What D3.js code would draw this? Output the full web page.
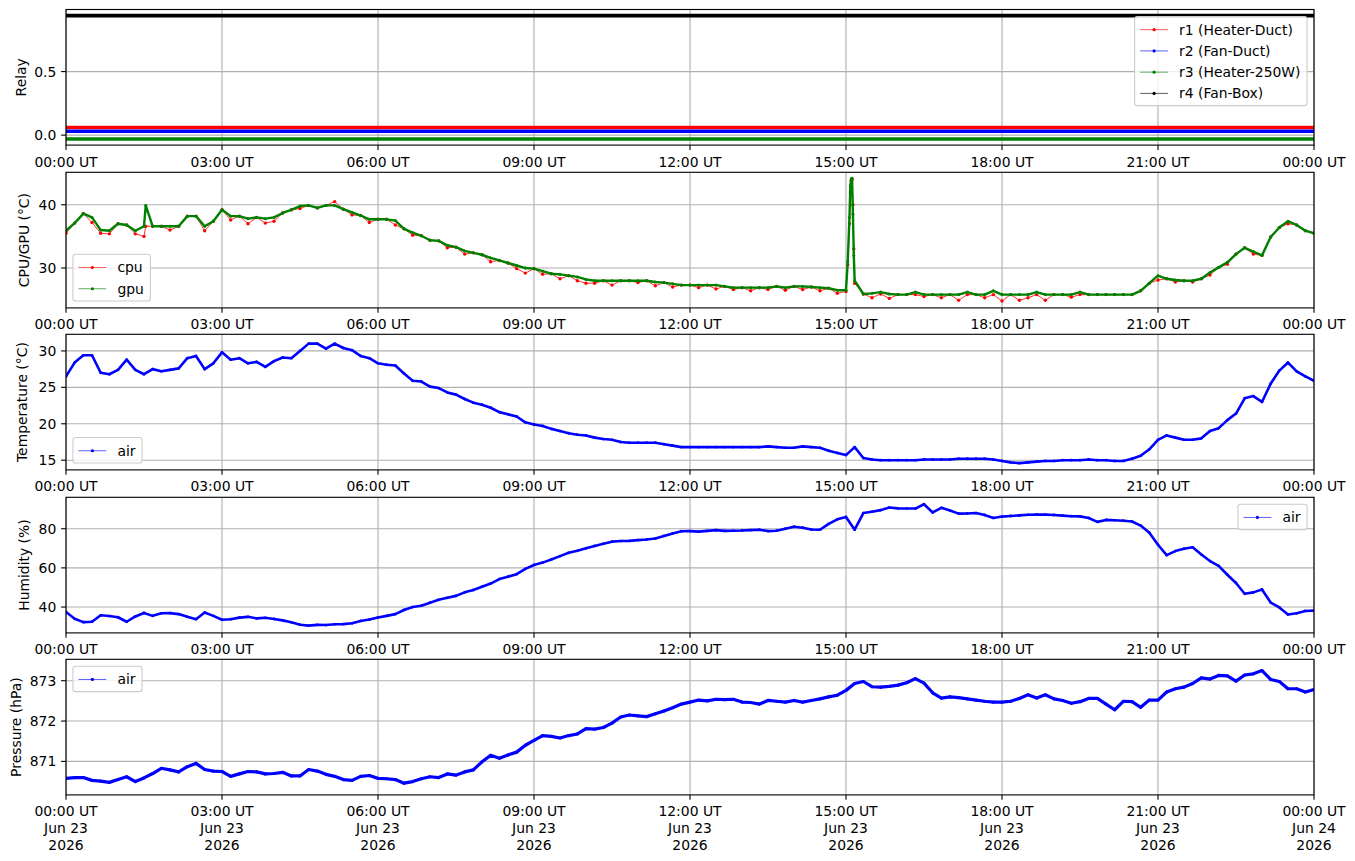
<!DOCTYPE html>
<html><head><meta charset="utf-8">
<script src="https://cdn.jsdelivr.net/npm/d3@7/dist/d3.min.js"></script>
<style>
html,body{margin:0;padding:0;background:#fff;}
svg{display:block;font-family:"DejaVu Sans",sans-serif;}
</style></head><body>
<svg id="chart" width="1355" height="861"></svg>
<script>
// ---------------- data ----------------
const startDate = "2026-06-23T00:00:00Z";
const endDate = "2026-06-24T00:00:00Z";
// sampling grid: one reading every 10 minutes through the day
const sampleMinutes = d3.range(0, 1441, 10);

const relayNames = ["r1 (Heater-Duct)", "r2 (Fan-Duct)", "r3 (Heater-250W)", "r4 (Fan-Box)"];
const relayColors = ["red", "blue", "green", "black"];
const relayMinutes = [0, 1440];
const relayR1 = [0, 0];
const relayR2 = [0, 0];
const relayR3 = [0, 0];
const relayR4 = [1, 1];
const relayOffsets = [0.06, 0.03, -0.03, -0.06];

const gpuTemp = [
 35.9,37.1,38.6,38.0,36.0,35.9,37.0,36.8,35.9,36.6,
 36.6,36.6,36.6,36.6,38.2,38.2,36.6,37.4,39.2,38.2,
 38.2,37.8,38.0,37.8,38.0,38.7,39.2,39.8,39.9,39.5,
 39.9,39.9,39.3,38.8,38.3,37.7,37.7,37.7,37.5,36.2,
 35.6,35.1,34.4,34.3,33.6,33.3,32.7,32.4,32.1,31.6,
 31.2,30.8,30.4,30.0,29.9,29.5,29.1,29.0,28.8,28.6,
 28.2,28.0,28.0,28.0,28.0,28.0,28.0,28.0,27.8,27.7,
 27.5,27.3,27.3,27.3,27.3,27.3,27.1,26.9,26.9,26.9,
 26.9,26.9,27.1,26.9,27.1,27.1,27.0,26.9,26.8,26.5,
 26.5,28.0,25.9,26.0,26.2,25.9,25.8,25.8,26.2,25.8,
 25.8,25.8,25.8,25.8,26.2,25.8,25.8,26.4,25.8,25.8,
 25.8,25.8,26.2,25.8,25.8,25.8,25.8,26.2,25.8,25.8,
 25.8,25.8,25.8,25.8,26.4,27.6,28.8,28.3,28.1,28.0,
 28.0,28.3,29.3,30.1,30.9,32.2,33.2,32.6,32.0,34.9,
 36.4,37.4,36.8,35.9,35.5];
const cpuTemp = [
 35.5,37.1,38.6,37.2,35.5,35.4,37.0,36.8,35.4,35.0,
 36.6,36.6,36.0,36.6,38.2,38.2,35.9,37.4,39.2,37.6,
 38.2,37.0,38.0,37.1,37.4,38.7,39.2,39.4,39.9,39.5,
 39.9,40.5,39.3,38.4,38.3,37.2,37.7,37.7,36.8,36.2,
 35.2,35.1,34.4,34.3,33.2,33.3,32.2,32.4,32.1,31.0,
 31.2,30.8,29.9,29.2,29.9,29.0,29.1,28.3,28.8,28.0,
 27.6,27.6,28.0,27.3,28.0,28.0,27.7,28.0,27.2,27.7,
 27.0,27.3,27.3,26.9,27.3,26.7,27.1,26.6,26.9,26.4,
 26.9,26.6,27.1,26.5,27.1,26.6,27.0,26.4,26.8,26.0,
 26.3,27.6,25.9,25.3,25.9,25.2,25.8,25.8,25.8,25.5,
 25.8,25.3,25.8,24.9,25.8,25.8,25.3,25.8,24.8,25.8,
 24.9,25.3,25.8,24.9,25.8,25.8,25.4,25.8,25.8,25.8,
 25.8,25.8,25.8,25.8,26.4,27.6,28.1,28.3,27.8,28.0,
 27.8,28.3,28.9,30.1,30.6,32.2,33.2,32.2,32.0,34.9,
 36.4,37.0,36.8,35.9,35.5];
// short-lived excursions read between the 10-minute samples
const spikeMinutes = [92, 902, 904, 905, 906, 907, 908, 909];
const cpuSpike = [36.6, 30.5, 37.0, 42.0, 43.8, 44.0, 40.0, 33.0];
const gpuSpike = [39.9, 31.0, 38.0, 43.0, 44.1, 44.2, 38.5, 32.0];

const airTemp = [
 26.5,28.4,29.4,29.4,27.0,26.8,27.4,28.8,27.4,26.8,
 27.5,27.2,27.4,27.6,29.0,29.3,27.5,28.3,29.8,28.8,
 29.0,28.3,28.5,27.8,28.6,29.1,29.0,30.0,31.0,31.0,
 30.3,31.0,30.4,30.1,29.3,29.0,28.3,28.1,28.0,26.9,
 25.9,25.8,25.1,24.9,24.3,24.0,23.4,22.9,22.6,22.2,
 21.6,21.3,21.0,20.2,19.9,19.7,19.3,19.0,18.7,18.5,
 18.4,18.1,17.9,17.8,17.5,17.4,17.4,17.4,17.4,17.2,
 17.0,16.8,16.8,16.8,16.8,16.8,16.8,16.8,16.8,16.8,
 16.8,16.9,16.8,16.7,16.7,16.9,16.8,16.7,16.3,16.0,
 15.7,16.8,15.3,15.1,15.0,15.0,15.0,15.0,15.0,15.1,
 15.1,15.1,15.1,15.2,15.2,15.2,15.2,15.1,14.9,14.7,
 14.6,14.7,14.8,14.9,14.9,15.0,15.0,15.0,15.1,15.0,
 15.0,14.9,14.9,15.2,15.6,16.5,17.8,18.4,18.1,17.8,
 17.8,18.0,19.0,19.4,20.5,21.4,23.5,23.8,23.0,25.5,
 27.3,28.4,27.2,26.5,25.9];

const humidity = [
 37.5,34.0,32.3,32.5,35.8,35.4,34.8,32.5,35.2,37.0,
 35.5,36.8,36.9,36.4,35.0,33.8,37.2,35.5,33.5,33.8,
 34.6,35.0,34.2,34.5,33.9,33.2,32.2,31.0,30.5,30.9,
 30.8,31.2,31.3,31.7,32.9,33.6,34.7,35.5,36.4,38.5,
 40.0,40.7,42.2,43.7,44.7,45.7,47.5,48.7,50.4,52.0,
 54.3,55.5,56.8,59.5,61.5,62.7,64.3,66.0,67.7,68.7,
 70.0,71.2,72.3,73.4,73.7,73.8,74.2,74.5,75.0,76.3,
 77.6,78.7,78.8,78.5,78.9,79.3,78.9,79.0,79.1,79.3,
 79.5,78.8,79.0,80.0,81.0,80.5,79.6,79.5,82.5,84.8,
 86.0,79.5,88.0,88.7,89.5,90.8,90.4,90.3,90.3,92.5,
 88.3,90.7,89.3,87.7,87.8,88.0,87.0,85.5,86.2,86.5,
 86.8,87.1,87.3,87.2,87.0,86.7,86.4,86.3,85.5,83.5,
 84.5,84.3,84.1,83.7,81.6,78.0,71.8,66.5,68.6,69.8,
 70.5,66.8,63.5,61.0,56.5,52.3,46.8,47.5,49.0,42.3,
 39.8,36.2,36.8,38.0,38.2];

const pressure = [
 870.58,870.60,870.60,870.53,870.51,870.48,870.55,870.62,870.50,870.59,
 870.70,870.83,870.79,870.74,870.87,870.95,870.80,870.76,870.75,870.63,
 870.69,870.75,870.74,870.69,870.70,870.73,870.64,870.64,870.80,870.76,
 870.68,870.63,870.55,870.53,870.63,870.65,870.58,870.57,870.55,870.46,
 870.50,870.57,870.62,870.60,870.69,870.66,870.74,870.79,870.99,871.15,
 871.08,871.16,871.23,871.40,871.52,871.64,871.62,871.58,871.64,871.68,
 871.81,871.80,871.84,871.95,872.10,872.15,872.13,872.11,872.18,872.25,
 872.33,872.42,872.47,872.52,872.50,872.54,872.53,872.54,872.47,872.46,
 872.42,872.51,872.49,872.47,872.51,872.47,872.51,872.55,872.60,872.64,
 872.76,872.93,872.98,872.85,872.84,872.86,872.89,872.95,873.05,872.94,
 872.70,872.57,872.60,872.58,872.55,872.52,872.49,872.47,872.47,872.49,
 872.56,872.65,872.57,872.65,872.55,872.51,872.44,872.48,872.56,872.56,
 872.42,872.28,872.49,872.48,872.34,872.52,872.52,872.72,872.80,872.84,
 872.93,873.07,873.04,873.13,873.12,872.99,873.14,873.17,873.25,873.03,
 872.98,872.80,872.80,872.72,872.78];

const yTicksRelay = [0, 0.5];
const yTicksCpu = [30, 40];
const yTicksTemp = [15, 20, 25, 30];
const yTicksHum = [40, 60, 80];
const yTicksPres = [871, 872, 873];

// ---------------- drawing ----------------
const svg = d3.select("#chart");
const L = 66, R = 1314, PH = 135.6;
const FS = 13.9, TICK = 4.86, SPINE = 1.11;
const t0 = +new Date(startDate);
const md = m => new Date(t0 + m * 60000);
const x = d3.scaleUtc().domain([new Date(startDate), new Date(endDate)]).range([L, R]);
const xTicks = x.ticks(d3.utcHour.every(3));
const fmtTime = d3.utcFormat("%H:%M UT"), fmtDay = d3.utcFormat("%b %d"), fmtYear = d3.utcFormat("%Y");

const panels = [
  {top: 9.5,   domain: [-0.0785, 0.9885], ticks: yTicksRelay, fmt: d3.format(".1f"), label: "Relay", lx: 26},
  {top: 172.3, domain: [23.7, 45.13],     ticks: yTicksCpu,   fmt: d3.format("d"),  label: "CPU/GPU (°C)", lx: 29},
  {top: 334.3, domain: [13.67, 32.28],    ticks: yTicksTemp,  fmt: d3.format("d"),  label: "Temperature (°C)", lx: 27},
  {top: 497.3, domain: [26.8, 96.05],     ticks: yTicksHum,   fmt: d3.format("d"),  label: "Humidity (%)", lx: 29},
  {top: 659.3, domain: [870.17, 873.53],  ticks: yTicksPres,  fmt: d3.format("d"),  label: "Pressure (hPa)", lx: 21}
];

function drawSeries(g, y, mins, vals, color, lw, r, op) {
  const pts = mins.map((m, i) => [x(md(m)), y(vals[i])]);
  g.append("path").attr("d", d3.line()(pts)).attr("fill", "none")
    .attr("stroke", color).attr("stroke-width", lw).attr("stroke-linejoin", "round")
    .attr("stroke-opacity", op == null ? 1 : op);
  if (r > 0) g.append("g").selectAll("circle").data(pts).join("circle")
    .attr("cx", d => d[0]).attr("cy", d => d[1]).attr("r", r).attr("fill", color);
}

function legend(p, entries, pos) {
  const pad = 5.56, rowH = 14.3, sp = 6.95, hl = 27.8, htp = 11.1, bap = 6.95;
  const tmp = svg.append("text").attr("font-size", FS);
  const maxW = d3.max(entries, e => { tmp.text(e.label); return tmp.node().getComputedTextLength(); });
  tmp.remove();
  const w = 2 * pad + hl + htp + maxW + 1;
  const h = 2 * pad + entries.length * rowH + (entries.length - 1) * sp;
  const bx = pos[0] === "r" ? R - bap - w : L + bap;
  const by = pos[1] === "t" ? p.top + bap : p.top + PH - bap - h;
  const g = svg.append("g");
  g.append("rect").attr("x", bx).attr("y", by).attr("width", w).attr("height", h)
    .attr("rx", 2.8).attr("fill", "white").attr("fill-opacity", 0.8)
    .attr("stroke", "#cccccc").attr("stroke-width", 1.1);
  entries.forEach((e, i) => {
    const cy = by + pad + rowH / 2 + i * (rowH + sp) + 0.5;
    g.append("line").attr("x1", bx + pad).attr("x2", bx + pad + hl).attr("y1", cy).attr("y2", cy)
      .attr("stroke", e.color).attr("stroke-width", 0.9).attr("stroke-opacity", 0.7);
    g.append("circle").attr("cx", bx + pad + hl / 2).attr("cy", cy).attr("r", 1.6).attr("fill", e.color);
    g.append("text").attr("x", bx + pad + hl + htp).attr("y", cy).attr("dy", "0.35em")
      .attr("font-size", FS).attr("fill", "#000").text(e.label);
  });
}

panels.forEach((p, i) => {
  const bottom = p.top + PH;
  p.y = d3.scaleLinear().domain(p.domain).range([bottom, p.top]);
  const g = svg.append("g");
  // grid
  g.append("g").selectAll("line").data(xTicks).join("line")
    .attr("x1", d => x(d)).attr("x2", d => x(d)).attr("y1", p.top).attr("y2", bottom)
    .attr("stroke", "#b0b0b0").attr("stroke-width", 1.11);
  g.append("g").selectAll("line").data(p.ticks).join("line")
    .attr("x1", L).attr("x2", R).attr("y1", d => p.y(d)).attr("y2", d => p.y(d))
    .attr("stroke", "#b0b0b0").attr("stroke-width", 1.11);
  // clip
  const cid = "clip" + i;
  svg.append("clipPath").attr("id", cid).append("rect")
    .attr("x", L).attr("y", p.top).attr("width", R - L).attr("height", PH);
  p.data = svg.append("g").attr("clip-path", `url(#${cid})`);
  // spines
  svg.append("rect").attr("x", L).attr("y", p.top).attr("width", R - L).attr("height", PH)
    .attr("fill", "none").attr("stroke", "#000").attr("stroke-width", SPINE);
  // x ticks + labels
  const ax = svg.append("g").attr("font-size", FS).attr("fill", "#000");
  xTicks.forEach(d => {
    ax.append("line").attr("x1", x(d)).attr("x2", x(d)).attr("y1", bottom).attr("y2", bottom + TICK)
      .attr("stroke", "#000").attr("stroke-width", SPINE);
    ax.append("text").attr("x", x(d)).attr("y", bottom + 21.5).attr("text-anchor", "middle").text(fmtTime(d));
    if (i === panels.length - 1) {
      ax.append("text").attr("x", x(d)).attr("y", bottom + 38.1).attr("text-anchor", "middle").text(fmtDay(d));
      ax.append("text").attr("x", x(d)).attr("y", bottom + 54.7).attr("text-anchor", "middle").text(fmtYear(d));
    }
  });
  // y ticks + labels
  p.ticks.forEach(v => {
    ax.append("line").attr("x1", L - TICK).attr("x2", L).attr("y1", p.y(v)).attr("y2", p.y(v))
      .attr("stroke", "#000").attr("stroke-width", SPINE);
    ax.append("text").attr("x", L - 9.7).attr("y", p.y(v)).attr("dy", "0.36em")
      .attr("text-anchor", "end").text(p.fmt(v));
  });
  ax.append("text").attr("transform", `translate(${p.lx},${p.top + PH / 2}) rotate(-90)`)
    .attr("text-anchor", "middle").text(p.label);
});

// relay panel
const relaySeries = [relayR1, relayR2, relayR3, relayR4];
relaySeries.forEach((s, j) => {
  drawSeries(panels[0].data, panels[0].y, relayMinutes, s.map(v => v + relayOffsets[j]), relayColors[j], 3.6, 0);
});
legend(panels[0], relayNames.map((n, j) => ({label: n, color: relayColors[j]})), "rt");

// cpu / gpu panel
const cpuRows = sampleMinutes.map((m, i) => ({m, cpu: cpuTemp[i], gpu: gpuTemp[i]}))
  .concat(spikeMinutes.map((m, i) => ({m, cpu: cpuSpike[i], gpu: gpuSpike[i]})))
  .sort((a, b) => a.m - b.m);
drawSeries(panels[1].data, panels[1].y, cpuRows.map(d => d.m), cpuRows.map(d => d.cpu), "red", 0.8, 1.7);
drawSeries(panels[1].data, panels[1].y, cpuRows.map(d => d.m), cpuRows.map(d => d.gpu), "green", 2.4, 1.5);
legend(panels[1], [{label: "cpu", color: "red"}, {label: "gpu", color: "green"}], "lb");

// air temperature
drawSeries(panels[2].data, panels[2].y, sampleMinutes, airTemp, "blue", 2.6, 1.4);
legend(panels[2], [{label: "air", color: "blue"}], "lb");

// humidity
drawSeries(panels[3].data, panels[3].y, sampleMinutes, humidity, "blue", 2.6, 1.4);
legend(panels[3], [{label: "air", color: "blue"}], "rt");

// pressure
drawSeries(panels[4].data, panels[4].y, sampleMinutes, pressure, "blue", 3.2, 1.6);
legend(panels[4], [{label: "air", color: "blue"}], "lt");
</script>
</body></html>
